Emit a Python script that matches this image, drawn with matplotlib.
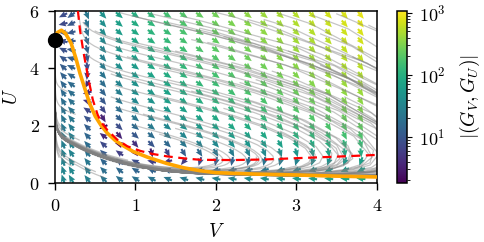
import numpy as np
import matplotlib
matplotlib.use("Agg")
import matplotlib.pyplot as plt
from matplotlib.colors import LogNorm

plt.rcParams["font.family"] = ["cmr10", "DejaVu Serif"]
plt.rcParams["mathtext.fontset"] = "cm"
plt.rcParams["axes.formatter.use_mathtext"] = True

# ---- data ----
red_V = [0.285, 0.31, 0.35, 0.41, 0.47, 0.53, 0.58, 0.65, 0.77, 0.90, 1.06,
         1.20, 1.39, 1.60, 1.80, 2.20, 2.60, 3.04, 3.50, 4.00]
red_U = [6.00, 5.35, 4.63, 3.70, 2.90, 2.38, 2.10, 1.85, 1.52, 1.28, 1.12,
         1.02, 0.93, 0.86, 0.81, 0.80, 0.82, 0.87, 0.92, 0.98]
orange_V = [0.00, 0.03, 0.08, 0.13, 0.20, 0.26, 0.31, 0.37, 0.43, 0.50, 0.57,
            0.65, 0.75, 0.86, 0.97, 1.15, 1.39, 1.60, 1.80, 2.00, 2.50, 3.00,
            3.50, 4.00]
orange_U = [5.00, 5.25, 5.33, 5.22, 4.88, 4.35, 3.83, 3.30, 2.78, 2.33, 2.02,
            1.74, 1.48, 1.28, 1.10, 0.90, 0.68, 0.53, 0.43, 0.36, 0.31, 0.28,
            0.24, 0.21]
dot_V, dot_U = 0.0, 5.0
start_V = [3.9, 3.5, 3.0, 2.6, 2.2, 1.8, 1.4, 1.0, 0.6, 3.8, 3.2, 2.8, 2.4,
           2.0, 1.6, 1.2, 0.8, 0.5, 3.6, 3.0, 2.5, 1.9, 1.3, 0.9, 0.3, 0.2,
           0.15, 0.4, 3.3, 2.7, 2.1, 1.5, 1.1, 0.7, 0.25, 3.7, 3.1, 0.35,
           0.1, 0.6, 1.7, 2.3, 0.45, 0.05, 1.0,
           0.8, 1.2, 1.6, 2.0, 2.4, 2.8, 3.2, 0.5, 0.9, 1.3, 1.7, 2.1, 2.5,
           2.9, 3.3, 3.6, 0.3, 0.7, 1.1, 1.5, 1.9, 0.6, 1.0, 1.4, 0.75]
start_U = [5.5, 5.9, 4.8, 5.7, 4.2, 5.4, 3.6, 5.8, 4.9, 2.5, 3.3, 1.8, 2.9,
           1.2, 2.2, 3.1, 2.6, 0.4, 1.4, 0.6, 0.9, 0.3, 1.7, 0.8, 1.5, 0.6,
           3.2, 4.5, 4.1, 3.9, 5.1, 4.6, 0.5, 3.8, 2.4, 4.4, 2.0, 5.6, 1.9,
           0.2, 5.0, 3.5, 1.1, 0.9, 2.0,
           5.95, 5.9, 5.8, 5.95, 5.7, 5.9, 5.85, 5.3, 4.4, 4.0, 3.2, 2.6, 3.6,
           4.6, 5.2, 3.0, 5.8, 3.0, 2.4, 1.9, 4.9, 4.0, 4.9, 5.6, 3.4]
cbar_ticks = [10, 100, 1000]
cbar_lim = (1.8, 1070)

red_V = np.array(red_V); red_U = np.array(red_U)
orange_V = np.array(orange_V); orange_U = np.array(orange_U)


# ---- model field built on the two curves (V- and U-nullclines) ----
def O(V):
    return np.interp(V, orange_V, orange_U)


def R(V):
    r = np.interp(V, red_V, red_U)
    return np.where(V < red_V[0], red_U[0] + (red_V[0] - V) * 60.0, r)


def field(V, U):
    Vp = np.clip(V, 0, None)
    h = 16.6 * Vp ** 1.41
    k = 6 + 4 * Vp + 1.7 * Vp ** 3
    return h * (U - R(V)), -k * (U - O(V))


# ---- figure ----
fig = plt.figure(figsize=(4.84, 2.42), dpi=100)
ax = fig.add_axes([0.1136, 0.2438, 0.6653, 0.7107])
cax = fig.add_axes([0.820, 0.2438, 0.0207, 0.7107])

Vq = np.r_[0.1, np.arange(0.2, 3.9, 0.2)]
Uq = np.arange(0.15, 6.0, 0.3)
VV, UU = np.meshgrid(Vq, Uq)
GV, GU = field(VV, UU)
mag = np.hypot(GV, GU)
norm = LogNorm(*cbar_lim)
q = ax.quiver(VV, UU, GV / mag, GU / mag, mag, cmap="viridis", norm=norm,
              scale=11, scale_units="inches", width=0.0065, headwidth=3,
              headlength=3.5, headaxislength=3.2, pivot="mid", zorder=1)

# trajectories (RK4)
V = np.array(start_V, float); U = np.array(start_U, float)
dt, n = 0.001, 5000
tV = [V.copy()]; tU = [U.copy()]
for i in range(n):
    a1, b1 = field(V, U)
    a2, b2 = field(V + dt / 2 * a1, U + dt / 2 * b1)
    a3, b3 = field(V + dt / 2 * a2, U + dt / 2 * b2)
    a4, b4 = field(V + dt * a3, U + dt * b3)
    V = V + dt / 6 * (a1 + 2 * a2 + 2 * a3 + a4)
    U = U + dt / 6 * (b1 + 2 * b2 + 2 * b3 + b4)
    if i % 5 == 0:
        tV.append(V.copy()); tU.append(U.copy())
tV = np.array(tV); tU = np.array(tU)
for j in range(tV.shape[1]):
    ax.plot(tV[:, j], tU[:, j], color="0.5", alpha=0.45, lw=0.9, zorder=2)

ax.plot(orange_V, orange_U, color="orange", lw=2.6, zorder=3)
ax.plot(red_V, red_U, color="red", lw=1.6, ls=(0, (4, 2.5)), zorder=4)
ax.plot([dot_V], [dot_U], "o", color="black", ms=10, clip_on=False, zorder=5)

ax.set_xlim(0, 4)
ax.set_ylim(0, 6)
ax.set_xticks([0, 1, 2, 3, 4])
ax.set_yticks([0, 2, 4, 6])
ax.tick_params(labelsize=13, length=5, width=1)
ax.tick_params(axis="x", pad=6)
ax.tick_params(axis="y", pad=6)
for s in ax.spines.values():
    s.set_linewidth(1.1)
ax.set_xlabel(r"$V$", fontsize=14, labelpad=6)
ax.set_ylabel(r"$U$", fontsize=14, labelpad=6)

cb = fig.colorbar(q, cax=cax)
cb.set_ticks(cbar_ticks)
cb.ax.tick_params(labelsize=13, pad=5)
cb.set_label(r"$|(G_V, G_U)|$", fontsize=14, labelpad=9)
cb.outline.set_linewidth(1.1)

fig.savefig("out.png", dpi=100)
